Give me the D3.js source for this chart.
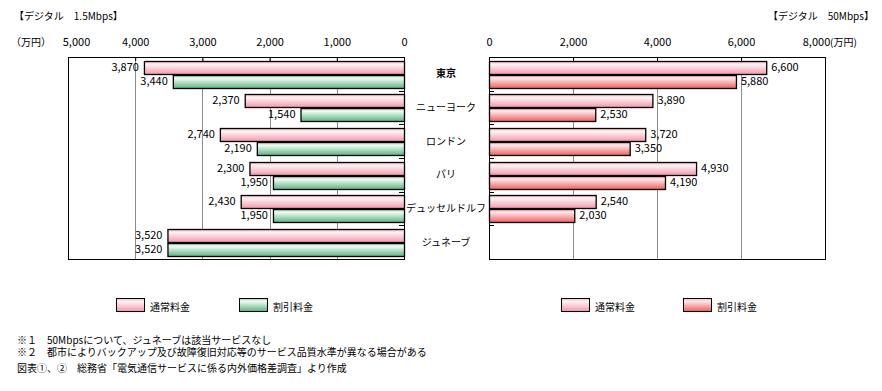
<!DOCTYPE html>
<html>
<head>
<meta charset="utf-8">
<script src="https://cdn.jsdelivr.net/npm/d3@7/dist/d3.min.js"></script>
<style>
  body { margin: 0; background: #fff; }
  text { font-family: "Noto Sans CJK JP", "Noto Sans", sans-serif; fill: #000; }
</style>
</head>
<body>
<div id="chart"></div>
<script>
// cities, top to bottom
var cities = ["東京", "ニューヨーク", "ロンドン", "パリ", "デュッセルドルフ", "ジュネーブ"];

// デジタル 1.5Mbps (万円)
var lowNormal   = [3870, 2370, 2740, 2300, 2430, 3520];
var lowDiscount = [3440, 1540, 2190, 1950, 1950, 3520];

// デジタル 50Mbps (万円), ジュネーブ has no service
var highNormal   = [6600, 3890, 3720, 4930, 2540, null];
var highDiscount = [5880, 2530, 3350, 4190, 2030, null];

var leftTicks  = [5000, 4000, 3000, 2000, 1000, 0];
var rightTicks = [0, 2000, 4000, 6000, 8000];

var notes = [
    "※１　50Mbpsについて、ジュネーブは該当サービスなし",
    "※２　都市によりバックアップ及び故障復旧対応等のサービス品質水準が異なる場合がある"
];
var source = "図表①、②　総務省「電気通信サービスに係る内外価格差調査」より作成";

var W = 882, H = 391;
var plotTop = 57, plotBottom = 259;

var svg = d3.select("#chart").append("svg")
    .attr("width", W)
    .attr("height", H);

// gradients
var defs = svg.append("defs");
var addGradient = function(id, stops){
    var g = defs.append("linearGradient").attr("id", id)
        .attr("x1", 0).attr("y1", 0).attr("x2", 0).attr("y2", 1);
    stops.forEach(function(s){
        g.append("stop").attr("offset", s[0]).attr("stop-color", s[1]);
    });
};
addGradient("gPink",  [["0%", "#f7b3c1"], ["22%", "#fff3f5"], ["100%", "#f396ab"]]);
addGradient("gGreen", [["0%", "#9ed6b4"], ["22%", "#f0faf3"], ["100%", "#56b47f"]]);
addGradient("gRed",   [["0%", "#f7b9c0"], ["22%", "#fde6e8"], ["100%", "#ef5e5a"]]);

var y = d3.scaleBand().domain(cities).range([plotTop, plotBottom]);
var sub = d3.scaleBand().domain([0, 1]).range([0, y.bandwidth()]).paddingInner(0.1).paddingOuter(0.25);

var xL = d3.scaleLinear().domain([5000, 0]).range([68, 404]);
var xR = d3.scaleLinear().domain([0, 8000]).range([489, 825]);

/**
 * draw one panel
 */
var drawPanel = function(x, ticks, series, fills, side){
    var r = x.range();
    var x0 = Math.min(r[0], r[1]), x1 = Math.max(r[0], r[1]);
    var g = svg.append("g");

    // grid lines
    g.append("g").attr("transform", "translate(0," + plotTop + ")")
        .call(d3.axisBottom(x).tickValues(ticks).tickSize(plotBottom - plotTop).tickFormat(""))
        .call(function(a){
            a.select(".domain").remove();
            a.selectAll("line").attr("stroke", "#8c8c8c").attr("shape-rendering", "crispEdges");
        });

    // bars
    series.forEach(function(vals, si){
        var data = cities.map(function(c, i){ return {c: c, v: vals[i]}; })
            .filter(function(d){ return d.v !== null; });
        g.selectAll(".bar" + si).data(data).enter().append("rect")
            .attr("x", function(d){ return Math.min(x(0), x(d.v)) + 0.5; })
            .attr("y", function(d){ return Math.round(y(d.c) + sub(si)) + 0.5; })
            .attr("width", function(d){ return Math.abs(x(d.v) - x(0)); })
            .attr("height", Math.round(sub.bandwidth()))
            .attr("fill", "url(#" + fills[si] + ")")
            .attr("stroke", "#000")
            .attr("stroke-width", 1.3);
        g.selectAll(".lab" + si).data(data).enter().append("text")
            .attr("x", function(d){ return side === "left" ? x(d.v) - 5 : x(d.v) + 5; })
            .attr("y", function(d){ return y(d.c) + sub(si) + sub.bandwidth() / 2; })
            .attr("dy", "0.36em")
            .attr("text-anchor", side === "left" ? "end" : "start")
            .style("font-size", "11px")
            .text(function(d){ return d3.format(",")(d.v); });
    });

    // frame
    g.append("rect")
        .attr("x", x0 + 0.5).attr("y", plotTop + 0.5)
        .attr("width", x1 - x0).attr("height", plotBottom - plotTop)
        .attr("fill", "none").attr("stroke", "#000");

    // top tick marks
    g.append("g").attr("transform", "translate(0," + plotTop + ")")
        .call(d3.axisBottom(x).tickValues(ticks).tickSize(4).tickFormat(""))
        .call(function(a){
            a.select(".domain").remove();
            a.selectAll("line").attr("stroke", "#000");
        });

    // category separators
    var edge = x(0);
    var dir = side === "left" ? -1 : 1;
    g.selectAll(".sep").data(cities.slice(1)).enter().append("line")
        .attr("x1", edge).attr("x2", edge + dir * 5)
        .attr("y1", function(c){ return Math.round(y(c)) + 0.5; })
        .attr("y2", function(c){ return Math.round(y(c)) + 0.5; })
        .attr("stroke", "#000");

    // tick labels
    var ax = g.append("g").attr("transform", "translate(0," + plotTop + ")")
        .call(d3.axisTop(x).tickValues(ticks).tickSize(0).tickPadding(11).tickFormat(d3.format(",")));
    ax.select(".domain").remove();
    ax.selectAll("text").style("font-size", "11px").attr("fill", "#000");
    return ax;
};

var axL = drawPanel(xL, leftTicks, [lowNormal, lowDiscount], ["gPink", "gGreen"], "left");
axL.selectAll("text").filter(function(d){ return d === 5000; }).attr("dx", 8);

var axR = drawPanel(xR, rightTicks, [highNormal, highDiscount], ["gPink", "gRed"], "right");
axR.selectAll("text").filter(function(d){ return d === 8000; }).attr("dx", -9);

// unit labels
svg.append("text").attr("x", 11).attr("y", 46).style("font-size", "10px").text("（万円）");
svg.append("text").attr("x", 830).attr("y", 46).style("font-size", "10px").text("(万円)");

// headers
svg.append("text").attr("x", 14).attr("y", 20).style("font-size", "10px").text("【デジタル　1.5Mbps】");
svg.append("text").attr("x", 874).attr("y", 20).attr("text-anchor", "end").style("font-size", "10px").text("【デジタル　50Mbps】");

// city labels
svg.selectAll(".city").data(cities).enter().append("text")
    .attr("x", 446)
    .attr("y", function(c){ return y(c) + y.bandwidth() / 2; })
    .attr("dy", "0.36em")
    .attr("text-anchor", "middle")
    .style("font-size", "10px")
    .style("font-weight", function(c, i){ return i === 0 ? "bold" : "normal"; })
    .text(function(c){ return c; });

// legends
var legend = [
    {x: 116, fill: "gPink",  label: "通常料金"},
    {x: 239, fill: "gGreen", label: "割引料金"},
    {x: 561, fill: "gPink",  label: "通常料金"},
    {x: 683, fill: "gRed",   label: "割引料金"}
];
var lg = svg.selectAll(".lg").data(legend).enter().append("g")
    .attr("transform", function(d){ return "translate(" + d.x + ",298)"; });
lg.append("rect")
    .attr("x", 0.5).attr("y", 0.5).attr("width", 28).attr("height", 13)
    .attr("fill", function(d){ return "url(#" + d.fill + ")"; })
    .attr("stroke", "#000");
lg.append("text")
    .attr("x", 34).attr("y", 9).attr("dy", "0.36em")
    .style("font-size", "10px")
    .text(function(d){ return d.label; });

// footnotes
svg.selectAll(".note").data(notes).enter().append("text")
    .attr("x", 17)
    .attr("y", function(d, i){ return 344 + i * 12; })
    .style("font-size", "10px")
    .text(function(d){ return d; });
svg.append("text").attr("x", 17).attr("y", 372).style("font-size", "10px").text(source);
</script>
</body>
</html>
